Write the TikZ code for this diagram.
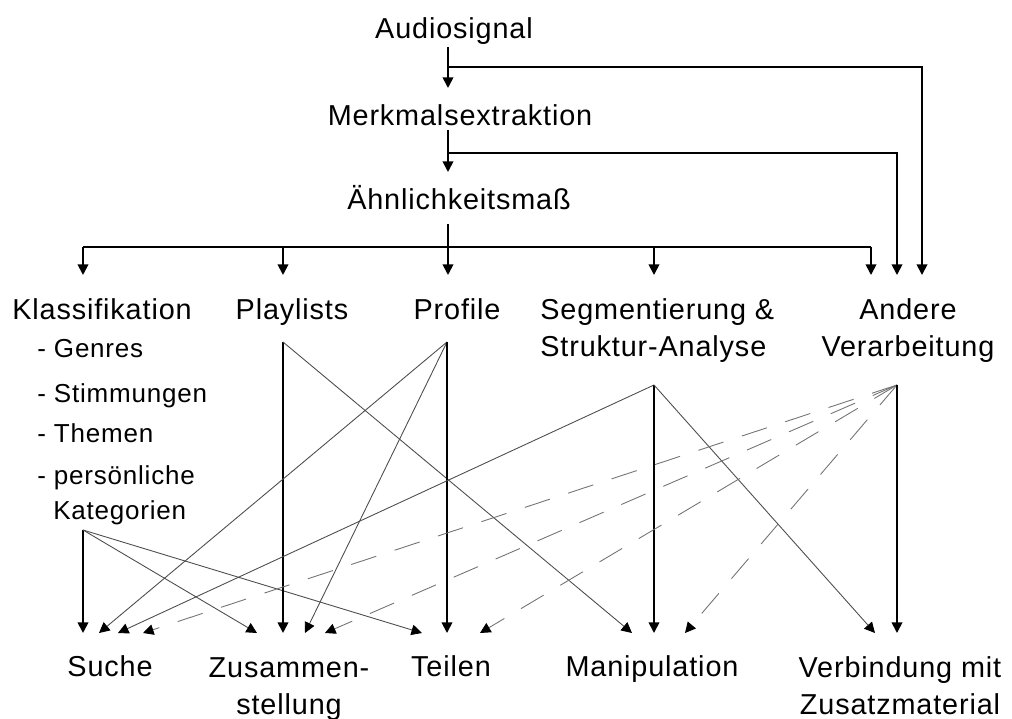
\documentclass[tikz,border=0pt]{standalone}
\usepackage{fontspec}
\setmainfont{Liberation Sans}[LetterSpace=3]
\usetikzlibrary{arrows.meta}
\tikzstyle{txt} = [inner sep=0pt, anchor=base, font=\fontsize{16.4pt}{21.6pt}\selectfont]
\tikzstyle{item} = [inner sep=0pt, anchor=base west, font=\fontsize{14.8pt}{18pt}\selectfont]
\tikzstyle{flow} = [draw, line width=1pt, -{Triangle[width=6pt, length=6pt]}]
\tikzstyle{link} = [draw, line width=0.5pt, black!70, -{Triangle[width=6pt, length=6pt, color=black]}]
\tikzstyle{maybe} = [link, black!55, dash pattern=on 15pt off 11pt]

\begin{document}
\begin{tikzpicture}[x=0.02cm, y=-0.02cm]
    \useasboundingbox (0,0) rectangle (1012,719);
    % Place nodes
    \node [txt] at (454,39) (audio) {Audiosignal};
    \node [txt] at (460,126) (merkmal) {Merkmalsextraktion};
    \node [txt] at (459,210) (aehnlich) {Ähnlichkeitsmaß};
    \node [txt] at (102,320) (klass) {Klassifikation};
    \node [txt] at (292,320) (playlists) {Playlists};
    \node [txt] at (457,320) (profile) {Profile};
    \node [txt, anchor=base west, align=left] at (540,357) (segment) {Segmentierung \&\\Struktur-Analyse};
    \node [txt, align=center] at (908,357) (andere) {Andere\\Verarbeitung};
    \node [item] at (37,358) (genres) {- Genres};
    \node [item] at (37,403) (stimmungen) {- Stimmungen};
    \node [item] at (37,443) (themen) {- Themen};
    \node [item] at (37,485) (persoenlich) {- persönliche};
    \node [item] at (53,520) (kategorien) {Kategorien};
    \node [txt] at (110,677) (suche) {Suche};
    \node [txt, align=center] at (289,715) (zusammen) {Zusammen-\\stellung};
    \node [txt] at (451,677) (teilen) {Teilen};
    \node [txt] at (652,677) (manip) {Manipulation};
    \node [txt, align=center] at (900,715) (verbindung) {Verbindung mit\\Zusatzmaterial};
    % Ports
    \coordinate (audioout) at (448,47);
    \coordinate (j1) at (448,67);
    \coordinate (merkmalin) at (448,88);
    \coordinate (merkmalout) at (448,130);
    \coordinate (j2) at (448,153);
    \coordinate (aehnlichin) at (448,172);
    \coordinate (aehnlichout) at (448,224);
    \coordinate (bus) at (448,247);
    \coordinate (klassin) at (83,275);
    \coordinate (playin) at (283,275);
    \coordinate (profin) at (448,275);
    \coordinate (segin) at (654,275);
    \coordinate (andin1) at (871,275);
    \coordinate (andin2) at (897,275);
    \coordinate (andin3) at (922,275);
    \coordinate (klassout) at (83,530);
    \coordinate (playout) at (283,342);
    \coordinate (profout) at (447,342);
    \coordinate (segout) at (654,385);
    \coordinate (andout) at (897,385);
    \coordinate (suche1) at (83,633);
    \coordinate (suche2) at (99,633);
    \coordinate (suche3) at (118,633);
    \coordinate (suche4) at (143,633);
    \coordinate (zus1) at (257,633);
    \coordinate (zus2) at (283,633);
    \coordinate (zus3) at (305,633);
    \coordinate (zus4) at (325,633);
    \coordinate (teil1) at (422,633);
    \coordinate (teil2) at (447,633);
    \coordinate (teil3) at (480,633);
    \coordinate (manip1) at (632,633);
    \coordinate (manip2) at (654,633);
    \coordinate (manip3) at (685,633);
    \coordinate (verb1) at (875,633);
    \coordinate (verb2) at (897,633);
    % Draw edges
    \path [flow] (audioout) -- (merkmalin);
    \path [flow] (j1) -| (andin3);
    \path [flow] (merkmalout) -- (aehnlichin);
    \path [flow] (j2) -| (andin2);
    \path [draw, line width=1pt] (aehnlichout) -- (bus);
    \path [draw, line width=1pt] (klassin |- bus) -- (andin1 |- bus);
    \foreach \p in {klassin, playin, profin, segin, andin1}
        \path [flow] (\p |- bus) -- (\p);
    \path [flow] (klassout) -- (suche1);
    \path [link] (klassout) -- (zus1);
    \path [link] (klassout) -- (teil1);
    \path [flow] (playout) -- (zus2);
    \path [link] (playout) -- (manip1);
    \path [link] (profout) -- (suche2);
    \path [link] (profout) -- (zus3);
    \path [flow] (profout) -- (teil2);
    \path [link] (segout) -- (suche3);
    \path [flow] (segout) -- (manip2);
    \path [link] (segout) -- (verb1);
    \foreach \t in {suche4, zus4, teil3, manip3}
        \path [maybe] (andout) -- (\t);
    \path [flow] (andout) -- (verb2);
\end{tikzpicture}
\end{document}
